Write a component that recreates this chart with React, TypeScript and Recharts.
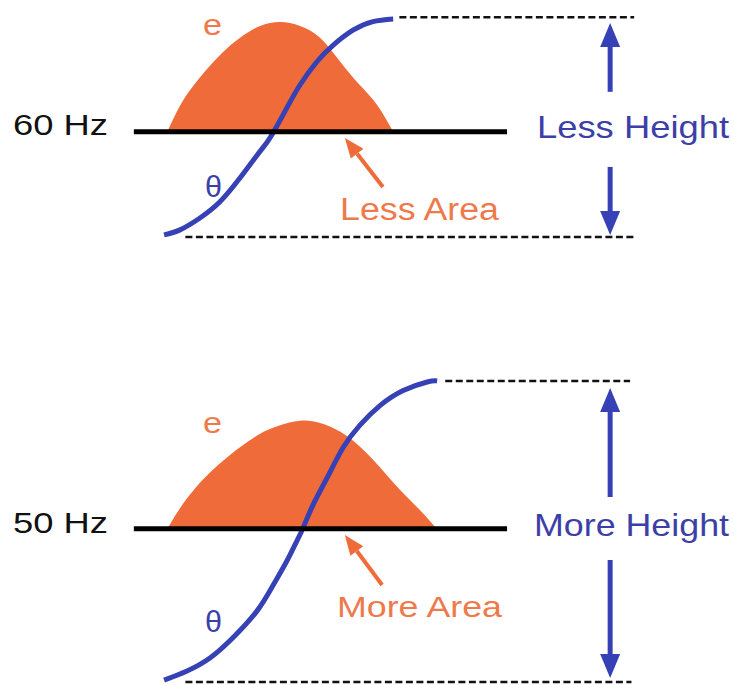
import { ComposedChart, Area, XAxis, YAxis, ReferenceLine } from "recharts";

// time axis in ms (half cycle: 60 Hz ≈ 8.33 ms, 50 Hz = 10 ms)
const X_DOMAIN = [-6.2, 21];

// 60 Hz panel: voltage e (per unit) and flux θ
const E60_T = [0, 0.47, 0.95, 1.58, 2.21, 2.81, 3.44, 4.18, 4.92, 5.66, 6.4, 7.14, 7.77, 8.37];
const E60_V = [0, 0.24, 0.42, 0.61, 0.77, 0.89, 0.98, 1.017, 0.98, 0.87, 0.65, 0.43, 0.25, 0];
const THETA60_T = [-0.12, 0.47, 1.21, 1.95, 2.69, 3.32, 3.69, 3.99, 4.43, 4.91, 5.55, 6.14, 6.88, 7.62, 8.37];
const THETA60_V = [-0.957, -0.91, -0.8, -0.65, -0.43, -0.22, -0.1, 0.02, 0.22, 0.43, 0.65, 0.8, 0.94, 1.02, 1.045];

// 50 Hz panel
const E50_T = [0, 0.47, 0.95, 1.58, 2.21, 2.81, 3.44, 4.07, 4.92, 5.66, 6.4, 7.14, 7.88, 8.62, 9.35, 9.98];
const E50_V = [0, 0.19, 0.35, 0.52, 0.66, 0.775, 0.88, 0.95, 1.0, 0.98, 0.9, 0.76, 0.57, 0.36, 0.175, 0];
const THETA50_T = [-0.12, 0.73, 1.58, 2.44, 3.32, 3.92, 4.43, 4.8, 5.02, 5.4, 5.92, 6.51, 7.14, 7.88, 8.74, 9.63, 10.0];
const THETA50_V = [-1.405, -1.32, -1.2, -1.01, -0.765, -0.525, -0.3, -0.115, 0, 0.22, 0.47, 0.75, 0.96, 1.14, 1.28, 1.36, 1.37];

// dashed limit lines: [theta level, from t, to t]
const LIM60_HI = [1.06, 8.6, 17.3];
const LIM60_LO = [-0.976, 0.67, 17.3];
const LIM50_HI = [1.37, 10.3, 17.15];
const LIM50_LO = [-1.423, 0.67, 17.2];

// baseline extent (t)
const BASE_T = [-1.24, 12.59];

// height arrows at t = 16.41: [shaft start, tip]
const ARROW_T = 16.41;
const UP60 = [0.369, 1.007];
const DOWN60 = [-0.327, -0.958];
const UP50 = [0.293, 1.305];
const DOWN50 = [-0.291, -1.386];

// area pointer arrows: [tailT, tailV, tipT, tipV]
const PTR60 = [7.99, -0.512, 6.58, -0.058];
const PTR50 = [7.96, -0.523, 6.58, -0.059];

const ORANGE = "#EF6C3A";
const ORANGE_TEXT = "#EE7A4C";
const BLUE = "#3541B4";
const BLUE_TEXT = "#3D3FA8";
const FONT = "'Liberation Sans', Arial, sans-serif";

const toPoints = (ts: number[], vs: number[]) => ts.map((t, i) => ({ t, v: vs[i] }));

function arrowShape(color: string, width: number, headLen: number, headW: number) {
  return (p: any) => {
    const { x1, y1, x2, y2 } = p;
    const dx = x2 - x1;
    const dy = y2 - y1;
    const len = Math.hypot(dx, dy) || 1;
    const ux = dx / len;
    const uy = dy / len;
    const bx = x2 - ux * headLen;
    const by = y2 - uy * headLen;
    const px = (-uy * headW) / 2;
    const py = (ux * headW) / 2;
    return (
      <g>
        <line x1={x1} y1={y1} x2={bx} y2={by} stroke={color} strokeWidth={width} />
        <polygon points={`${x2},${y2} ${bx + px},${by + py} ${bx - px},${by - py}`} fill={color} />
      </g>
    );
  };
}

function plainLine(color: string, width: number, dash?: string) {
  return (p: any) => (
    <line
      x1={p.x1}
      y1={p.y1}
      x2={p.x2}
      y2={p.y2}
      stroke={color}
      strokeWidth={width}
      strokeDasharray={dash}
      strokeLinecap="butt"
    />
  );
}

interface Label {
  text: string;
  x: number;
  y: number;
  w: number;
  size: number;
  color: string;
}

function Labels({ items }: { items: Label[] }) {
  return (
    <g>
      {items.map((l, i) => (
        <text
          key={i}
          x={l.x}
          y={l.y}
          fontSize={l.size}
          fill={l.color}
          fontFamily={FONT}
          textLength={l.w}
          lengthAdjust="spacingAndGlyphs"
        >
          {l.text}
        </text>
      ))}
    </g>
  );
}

interface PanelProps {
  top: number;
  height: number;
  yDomain: number[];
  e: { t: number; v: number }[];
  theta: { t: number; v: number }[];
  hi: number[];
  lo: number[];
  up: number[];
  down: number[];
  ptr: number[];
  labels: Label[];
}

function Panel(props: PanelProps) {
  const { top, height, yDomain, e, theta, hi, lo, up, down, ptr, labels } = props;
  const blueArrow = arrowShape(BLUE, 5, 24, 20);
  const orangeArrow = arrowShape(ORANGE, 4, 20, 16);
  const dashed = plainLine("#111", 2.5, "7 3.5");
  return (
    <div style={{ position: "absolute", left: 0, top }}>
      <ComposedChart width={734} height={height} margin={{ top: 0, right: 0, bottom: 0, left: 0 }}>
        <XAxis type="number" dataKey="t" domain={X_DOMAIN} allowDataOverflow hide />
        <YAxis type="number" dataKey="v" domain={yDomain} allowDataOverflow hide />
        <Area
          data={e}
          dataKey="v"
          type="natural"
          baseValue={0}
          stroke="none"
          fill={ORANGE}
          fillOpacity={1}
          isAnimationActive={false}
        />
        <ReferenceLine
          segment={[
            { x: hi[1], y: hi[0] },
            { x: hi[2], y: hi[0] },
          ]}
          shape={dashed}
        />
        <ReferenceLine
          segment={[
            { x: lo[1], y: lo[0] },
            { x: lo[2], y: lo[0] },
          ]}
          shape={dashed}
        />
        <ReferenceLine
          segment={[
            { x: BASE_T[0], y: 0 },
            { x: BASE_T[1], y: 0 },
          ]}
          shape={plainLine("#000", 5)}
        />
        <Area
          data={theta}
          dataKey="v"
          type="natural"
          baseValue={0}
          stroke={BLUE}
          strokeWidth={5}
          fill="none"
          fillOpacity={0}
          dot={false}
          activeDot={false}
          isAnimationActive={false}
        />
        <ReferenceLine
          segment={[
            { x: ARROW_T, y: up[0] },
            { x: ARROW_T, y: up[1] },
          ]}
          shape={blueArrow}
        />
        <ReferenceLine
          segment={[
            { x: ARROW_T, y: down[0] },
            { x: ARROW_T, y: down[1] },
          ]}
          shape={blueArrow}
        />
        <ReferenceLine
          segment={[
            { x: ptr[0], y: ptr[1] },
            { x: ptr[2], y: ptr[3] },
          ]}
          shape={orangeArrow}
        />
        <Labels items={labels} />
      </ComposedChart>
    </div>
  );
}

const LABELS_60: Label[] = [
  { text: "60 Hz", x: 13, y: 135, w: 95, size: 29, color: "#111" },
  { text: "e", x: 203, y: 35, w: 19, size: 30, color: ORANGE_TEXT },
  { text: "θ", x: 205, y: 197, w: 17, size: 29, color: BLUE_TEXT },
  { text: "Less Area", x: 340, y: 220, w: 159, size: 31, color: ORANGE_TEXT },
  { text: "Less Height", x: 537, y: 138, w: 192, size: 32, color: BLUE_TEXT },
];

const LABELS_50: Label[] = [
  { text: "50 Hz", x: 13, y: 233, w: 95, size: 30, color: "#111" },
  { text: "e", x: 203, y: 133, w: 19, size: 30, color: ORANGE_TEXT },
  { text: "θ", x: 205, y: 332, w: 17, size: 29, color: BLUE_TEXT },
  { text: "More Area", x: 337, y: 317, w: 165, size: 30, color: ORANGE_TEXT },
  { text: "More Height", x: 534, y: 236, w: 195, size: 32, color: BLUE_TEXT },
];

export default function App() {
  return (
    <div style={{ position: "absolute", left: 0, top: 0, width: 734, height: 685, background: "#fff" }}>
      <Panel
        top={0}
        height={300}
        yDomain={[-1.56, 1.22]}
        e={toPoints(E60_T, E60_V)}
        theta={toPoints(THETA60_T, THETA60_V)}
        hi={LIM60_HI}
        lo={LIM60_LO}
        up={UP60}
        down={DOWN60}
        ptr={PTR60}
        labels={LABELS_60}
      />
      <Panel
        top={300}
        height={385}
        yDomain={[-1.45, 2.12]}
        e={toPoints(E50_T, E50_V)}
        theta={toPoints(THETA50_T, THETA50_V)}
        hi={LIM50_HI}
        lo={LIM50_LO}
        up={UP50}
        down={DOWN50}
        ptr={PTR50}
        labels={LABELS_50}
      />
    </div>
  );
}
